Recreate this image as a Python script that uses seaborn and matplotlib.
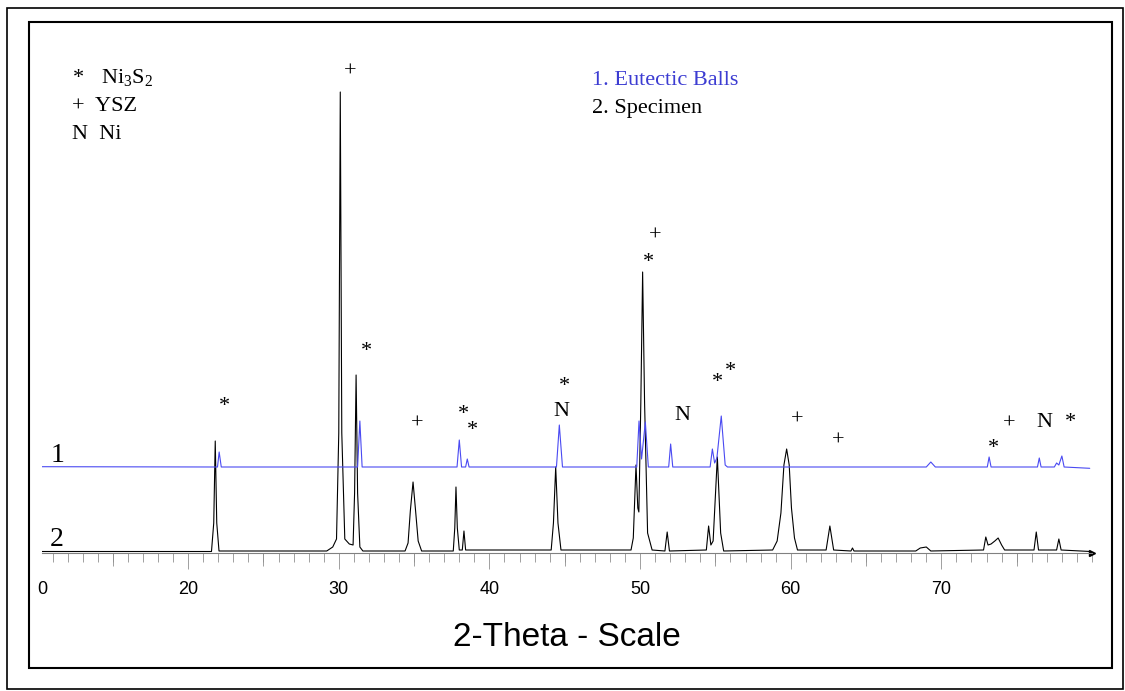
import matplotlib
matplotlib.use("Agg")
import matplotlib.pyplot as plt
from matplotlib.patches import Rectangle
from matplotlib.ticker import MultipleLocator
import pandas as pd
import seaborn as sns

sns.set_theme(style="white")
plt.rcParams['font.family'] = ['Liberation Serif', 'DejaVu Serif']
plt.rcParams['mathtext.fontset'] = 'custom'
plt.rcParams['mathtext.rm'] = 'Liberation Serif'
plt.rcParams['text.color'] = 'black'
plt.rcParams['axes.labelcolor'] = 'black'
plt.rcParams['xtick.labelcolor'] = 'black'

# trace 2: specimen (2-theta, intensity)
spec_x = [10.3, 21.55, 21.7, 21.8, 21.9, 22.05, 29.2, 29.6, 29.85, 30.0, 30.1, 30.2,
          30.4, 30.7, 30.95, 31.05, 31.15, 31.25, 31.4, 31.6, 34.4, 34.6, 34.75, 34.93,
          35.1, 35.27, 35.5, 37.6, 37.7, 37.78, 37.87, 38.0, 38.2, 38.31, 38.42, 44.1,
          44.25, 44.4, 44.55, 44.75, 49.4, 49.55, 49.73, 49.85, 49.92, 50.05, 50.17, 50.3,
          50.5, 50.8, 51.65, 51.8, 51.95, 54.4, 54.55, 54.7, 54.85, 55.13, 55.35, 55.55,
          58.8, 59.1, 59.35, 59.55, 59.73, 59.9, 60.05, 60.25, 60.45, 62.35, 62.6, 62.85,
          64.0, 64.1, 64.2, 68.3, 68.6, 69.0, 69.3, 72.8, 72.95, 73.1, 73.3, 73.55, 73.77,
          74.0, 74.2, 76.15, 76.3, 76.45, 77.65, 77.8, 77.95, 79.9]
spec_y = [1.5, 1.5, 30, 112, 30, 2, 2, 6, 14, 120, 461, 120,
          14, 9, 8, 60, 178, 60, 6, 2, 2, 10, 42, 71,
          42, 12, 2, 2, 25, 66, 25, 3, 3, 22, 3, 3,
          30, 86, 30, 3, 3, 15, 88, 45, 41, 150, 281, 150,
          20, 3, 2, 21, 2, 3, 27, 8, 12, 96, 20, 2,
          3, 12, 40, 88, 104, 88, 45, 15, 3, 3, 27, 3,
          2, 5, 2, 2, 5, 6, 2, 3, 16, 8, 9, 12, 15,
          8, 3, 3, 21, 3, 3, 14, 3, 1.5]

# trace 1: eutectic balls
ball_x = [10.3, 21.95, 22.06, 22.2, 31.25, 31.4, 31.55, 37.85, 38.0, 38.15, 38.42, 38.53,
          38.65, 44.45, 44.64, 44.85, 49.78, 49.93, 50.1, 50.35, 50.55, 51.9, 52.03, 52.17,
          54.65, 54.8, 54.95, 55.1, 55.39, 55.65, 55.8, 69.0, 69.3, 69.6, 73.05, 73.17,
          73.3, 76.38, 76.5, 76.62, 77.5, 77.65, 77.8, 78.0, 78.15, 79.85]
ball_y = [86.3, 86, 101, 86, 86, 132, 86, 86, 113, 86, 86, 94,
          86, 86, 128, 86, 86, 132, 94, 131, 86, 86, 109, 86,
          86, 104, 90, 95, 137, 88, 86, 86, 91, 86, 86, 96,
          86, 86, 95, 86, 86, 90, 88, 97, 86, 84.7]

# phase markers above the peaks
mark_sym = ['+', '*', '*', '+', '*', '*', '*', 'N', '+', '*', 'N', '*', '*',
            '+', '+', '*', '+', 'N', '*']
mark_x = [30.75, 22.39, 31.81, 35.2, 38.25, 38.9, 44.95, 44.75, 50.99, 50.59, 52.78,
          55.17, 55.97, 60.41, 63.13, 73.48, 74.48, 76.87, 78.59]
mark_y = [482, 152, 207, 130, 144, 128, 172, 144, 318, 296, 140, 176, 187, 134, 113,
          110, 130, 133, 136]

major_ticks = [20, 30, 40, 50, 60, 70]
mid_ticks = [15, 25, 35, 45, 55, 65, 75]

W, H = 1125, 691
fig = plt.figure(figsize=(W / 100, H / 100), dpi=100)
ax = fig.add_axes([42 / W, 1 - 553 / H, 1050 / W, 531 / H])

blue = '#4a4af2'
spec = pd.DataFrame({'x': spec_x, 'y': spec_y})
ball = pd.DataFrame({'x': ball_x, 'y': ball_y})
sns.lineplot(data=spec, x='x', y='y', color='black', lw=0.8, estimator=None, sort=False, ax=ax)
sns.lineplot(data=ball, x='x', y='y', color=blue, lw=0.8, estimator=None, sort=False, ax=ax)

ax.set_xlim(10.3, 80)
ax.set_ylim(0, 531)
for s in ['left', 'right', 'top']:
    ax.spines[s].set_visible(False)
ax.spines['bottom'].set_color('#808080')
ax.spines['bottom'].set_linewidth(0.8)
ax.set_yticks([])
ax.set_xticks(major_ticks)
ax.xaxis.set_minor_locator(MultipleLocator(1))
ax.tick_params(axis='x', which='major', direction='out', length=11.5, width=0.6,
               color='#909090', pad=9, labelsize=13, bottom=True, labelcolor='black')
ax.tick_params(axis='x', which='minor', direction='out', length=6.5, width=0.6,
               color='#909090', bottom=True)
for lab in ax.get_xticklabels():
    lab.set_family(['Liberation Sans', 'DejaVu Sans'])
ax.text(10.3, -37, '0', ha='center', va='center', fontsize=13, color='black',
        family=['Liberation Sans', 'DejaVu Sans'], clip_on=False)

sec = ax.secondary_xaxis('bottom')
sec.set_xticks(mid_ticks)
sec.tick_params(axis='x', direction='out', length=9.5, width=0.6, color='#909090',
                labelbottom=False)
sec.spines['bottom'].set_visible(False)

ax.plot([1], [0], marker='>', ms=5, color='black', transform=ax.transAxes, clip_on=False)

ax.set_xlabel('2-Theta - Scale', fontsize=24, color='black',
              family=['Liberation Sans', 'DejaVu Sans'], labelpad=17)
ax.set_ylabel('')

# peak identification symbols, centred on the read positions
centre = {'*': 7.0, '+': 3.8, 'N': 5.2}
for sym, x, y in zip(mark_sym, mark_x, mark_y):
    ax.annotate(sym, (x, y), xytext=(0, -centre[sym]), textcoords='offset points',
                ha='center', va='baseline', fontsize=16, color='black')

ax.text(11.3, 98, '1', ha='center', va='center', fontsize=20, color='black')
ax.text(11.3, 13, '2', ha='center', va='center', fontsize=20, color='black')

# legends
fig.text(73 / W, 1 - 83 / H, '*', fontsize=16, va='baseline', color='black')
fig.text(101 / W, 1 - 83 / H, r'Ni$\mathregular{_3}$S$\mathregular{_2}$', fontsize=16,
         va='baseline', color='black')
fig.text(72 / W, 1 - 111 / H, '+  YSZ', fontsize=16, va='baseline', color='black')
fig.text(72 / W, 1 - 139 / H, 'N  Ni', fontsize=16, va='baseline', color='black')
fig.text(592 / W, 1 - 85 / H, '1. Eutectic Balls', fontsize=16, va='baseline', color='#3c3cd2')
fig.text(592 / W, 1 - 113 / H, '2. Specimen', fontsize=16, va='baseline', color='black')

# frames around the plot
fig.add_artist(Rectangle((7 / W, 1 - 689 / H), 1116 / W, 681 / H, transform=fig.transFigure,
                         fill=False, ec='black', lw=1.2))
fig.add_artist(Rectangle((29 / W, 1 - 668 / H), 1083 / W, 646 / H, transform=fig.transFigure,
                         fill=False, ec='black', lw=1.5))

fig.savefig('out.png', dpi=100)
